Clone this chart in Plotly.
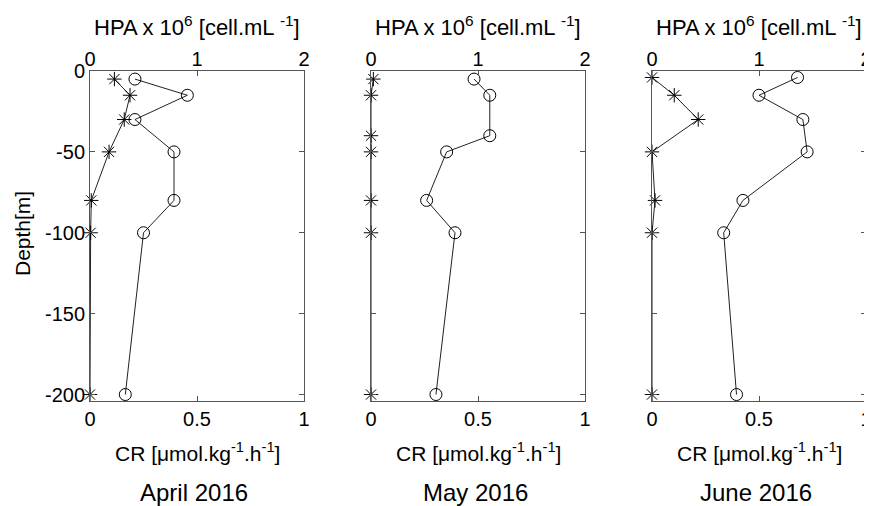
import plotly.graph_objects as go

months = ["April 2016", "May 2016", "June 2016"]

depth_apr = [-5, -15, -30, -50, -80, -100, -200]
hpa_apr = [0.42, 0.91, 0.42, 0.785, 0.785, 0.50, 0.33]
cr_apr = [0.114, 0.187, 0.16, 0.089, 0.006, 0.003, 0.0]

depth_may_hpa = [-5, -15, -40, -50, -80, -100, -200]
hpa_may = [0.963, 1.11, 1.11, 0.707, 0.52, 0.785, 0.607]
depth_may_cr = [-5, -15, -40, -50, -80, -100, -200]
cr_may = [0.011, 0.0, 0.0, 0.0, 0.0, 0.0, 0.0]

depth_jun = [-4, -15, -30, -50, -80, -100, -200]
hpa_jun = [1.36, 1.00, 1.41, 1.45, 0.85, 0.67, 0.79]
cr_jun = [0.0, 0.104, 0.216, 0.0, 0.014, 0.0, 0.0]

depth_ticks = [0, -50, -100, -150, -200]
cr_ticks = [0, 0.5, 1]
hpa_ticks = [0, 1, 2]

panels = [
    (depth_apr, hpa_apr, depth_apr, cr_apr),
    (depth_may_hpa, hpa_may, depth_may_cr, cr_may),
    (depth_jun, hpa_jun, depth_jun, cr_jun),
]

# page body has an 8px default margin; lay out in screen pixels minus offset
OFF = 8
W, H = 872 - OFF, 506 - OFF


def fx(px):
    return (px - OFF) / W


def fy(py):
    return 1 - (py - OFF) / H


px_left = [90, 371, 652]
px_w = 214
top_px, bot_px = 71, 401
ydom = [fy(bot_px), fy(top_px)]

fig = go.Figure()
font = "Arial, Liberation Sans, sans-serif"
axcol = "#555555"

for i, (dh, hv, dc, cv) in enumerate(panels):
    n = i + 1
    xb = "x" if n == 1 else f"x{n}"
    xt = f"x{n+3}"
    ya = "y" if n == 1 else f"y{n}"
    fig.add_trace(go.Scatter(
        x=cv, y=dc, xaxis=xb, yaxis=ya, mode="lines+markers",
        cliponaxis=False,
        line=dict(color="#222222", width=1),
        marker=dict(symbol="asterisk-open", size=12, color="black",
                    line=dict(color="black", width=1)),
        showlegend=False))
    fig.add_trace(go.Scatter(
        x=hv, y=dh, xaxis=xt, yaxis=ya, mode="lines+markers",
        cliponaxis=False,
        line=dict(color="#222222", width=1),
        marker=dict(symbol="circle-open", size=12, color="black",
                    line=dict(color="black", width=1)),
        showlegend=False))
    dom = [fx(px_left[i]), fx(px_left[i] + px_w)]
    kb = "xaxis" if n == 1 else f"xaxis{n}"
    kt = f"xaxis{n+3}"
    ky = "yaxis" if n == 1 else f"yaxis{n}"
    fig.layout[kb] = dict(
        domain=dom, range=[0, 1], anchor=ya, side="bottom",
        tickvals=cr_ticks, ticktext=["0", "0.5", "1"],
        ticks="inside", ticklen=5, tickcolor=axcol, automargin=False,
        showline=True, linecolor=axcol, linewidth=1, mirror=True,
        showgrid=False, zeroline=False,
        tickfont=dict(family=font, size=20, color="black"))
    fig.layout[kt] = dict(
        overlaying=xb, range=[0, 2], anchor=ya, side="top",
        tickvals=hpa_ticks, ticktext=["0", "1", "2"],
        ticks="inside", ticklen=5, tickcolor=axcol, automargin=False,
        showline=False, showgrid=False, zeroline=False,
        tickfont=dict(family=font, size=20, color="black"))
    fig.layout[ky] = dict(
        domain=ydom, range=[-204, 0], anchor=xb,
        tickvals=depth_ticks,
        ticktext=[str(v) for v in depth_ticks],
        showticklabels=(n == 1), automargin=False,
        ticks="inside", ticklen=5, tickcolor=axcol,
        showline=True, linecolor=axcol, linewidth=1, mirror="ticks",
        showgrid=False, zeroline=False,
        tickfont=dict(family=font, size=20, color="black"))

annotations = []
for i, m in enumerate(months):
    cx = fx(px_left[i] + px_w / 2)
    annotations.append(dict(
        x=cx, y=fy(26), xref="paper", yref="paper", showarrow=False,
        text="HPA x 10<sup>6</sup> [cell.mL <sup>-1</sup>]",
        font=dict(family=font, size=22, color="black"),
        xanchor="center", yanchor="middle"))
    annotations.append(dict(
        x=cx, y=fy(452), xref="paper", yref="paper", showarrow=False,
        text="CR [μmol.kg<sup>-1</sup>.h<sup>-1</sup>]",
        font=dict(family=font, size=21, color="black"),
        xanchor="center", yanchor="middle"))
    annotations.append(dict(
        x=cx - 3 / W, y=fy(492), xref="paper", yref="paper", showarrow=False,
        text=m, font=dict(family=font, size=24, color="black"),
        xanchor="center", yanchor="middle"))
annotations.append(dict(
    x=fx(22), y=fy(234), xref="paper", yref="paper", showarrow=False,
    text="Depth[m]", textangle=-90,
    font=dict(family=font, size=21, color="black"),
    xanchor="center", yanchor="middle"))

fig.update_layout(
    width=W, height=H, margin=dict(l=0, r=0, t=0, b=0),
    paper_bgcolor="white", plot_bgcolor="white",
    annotations=annotations)

fig.write_html("out.html")
